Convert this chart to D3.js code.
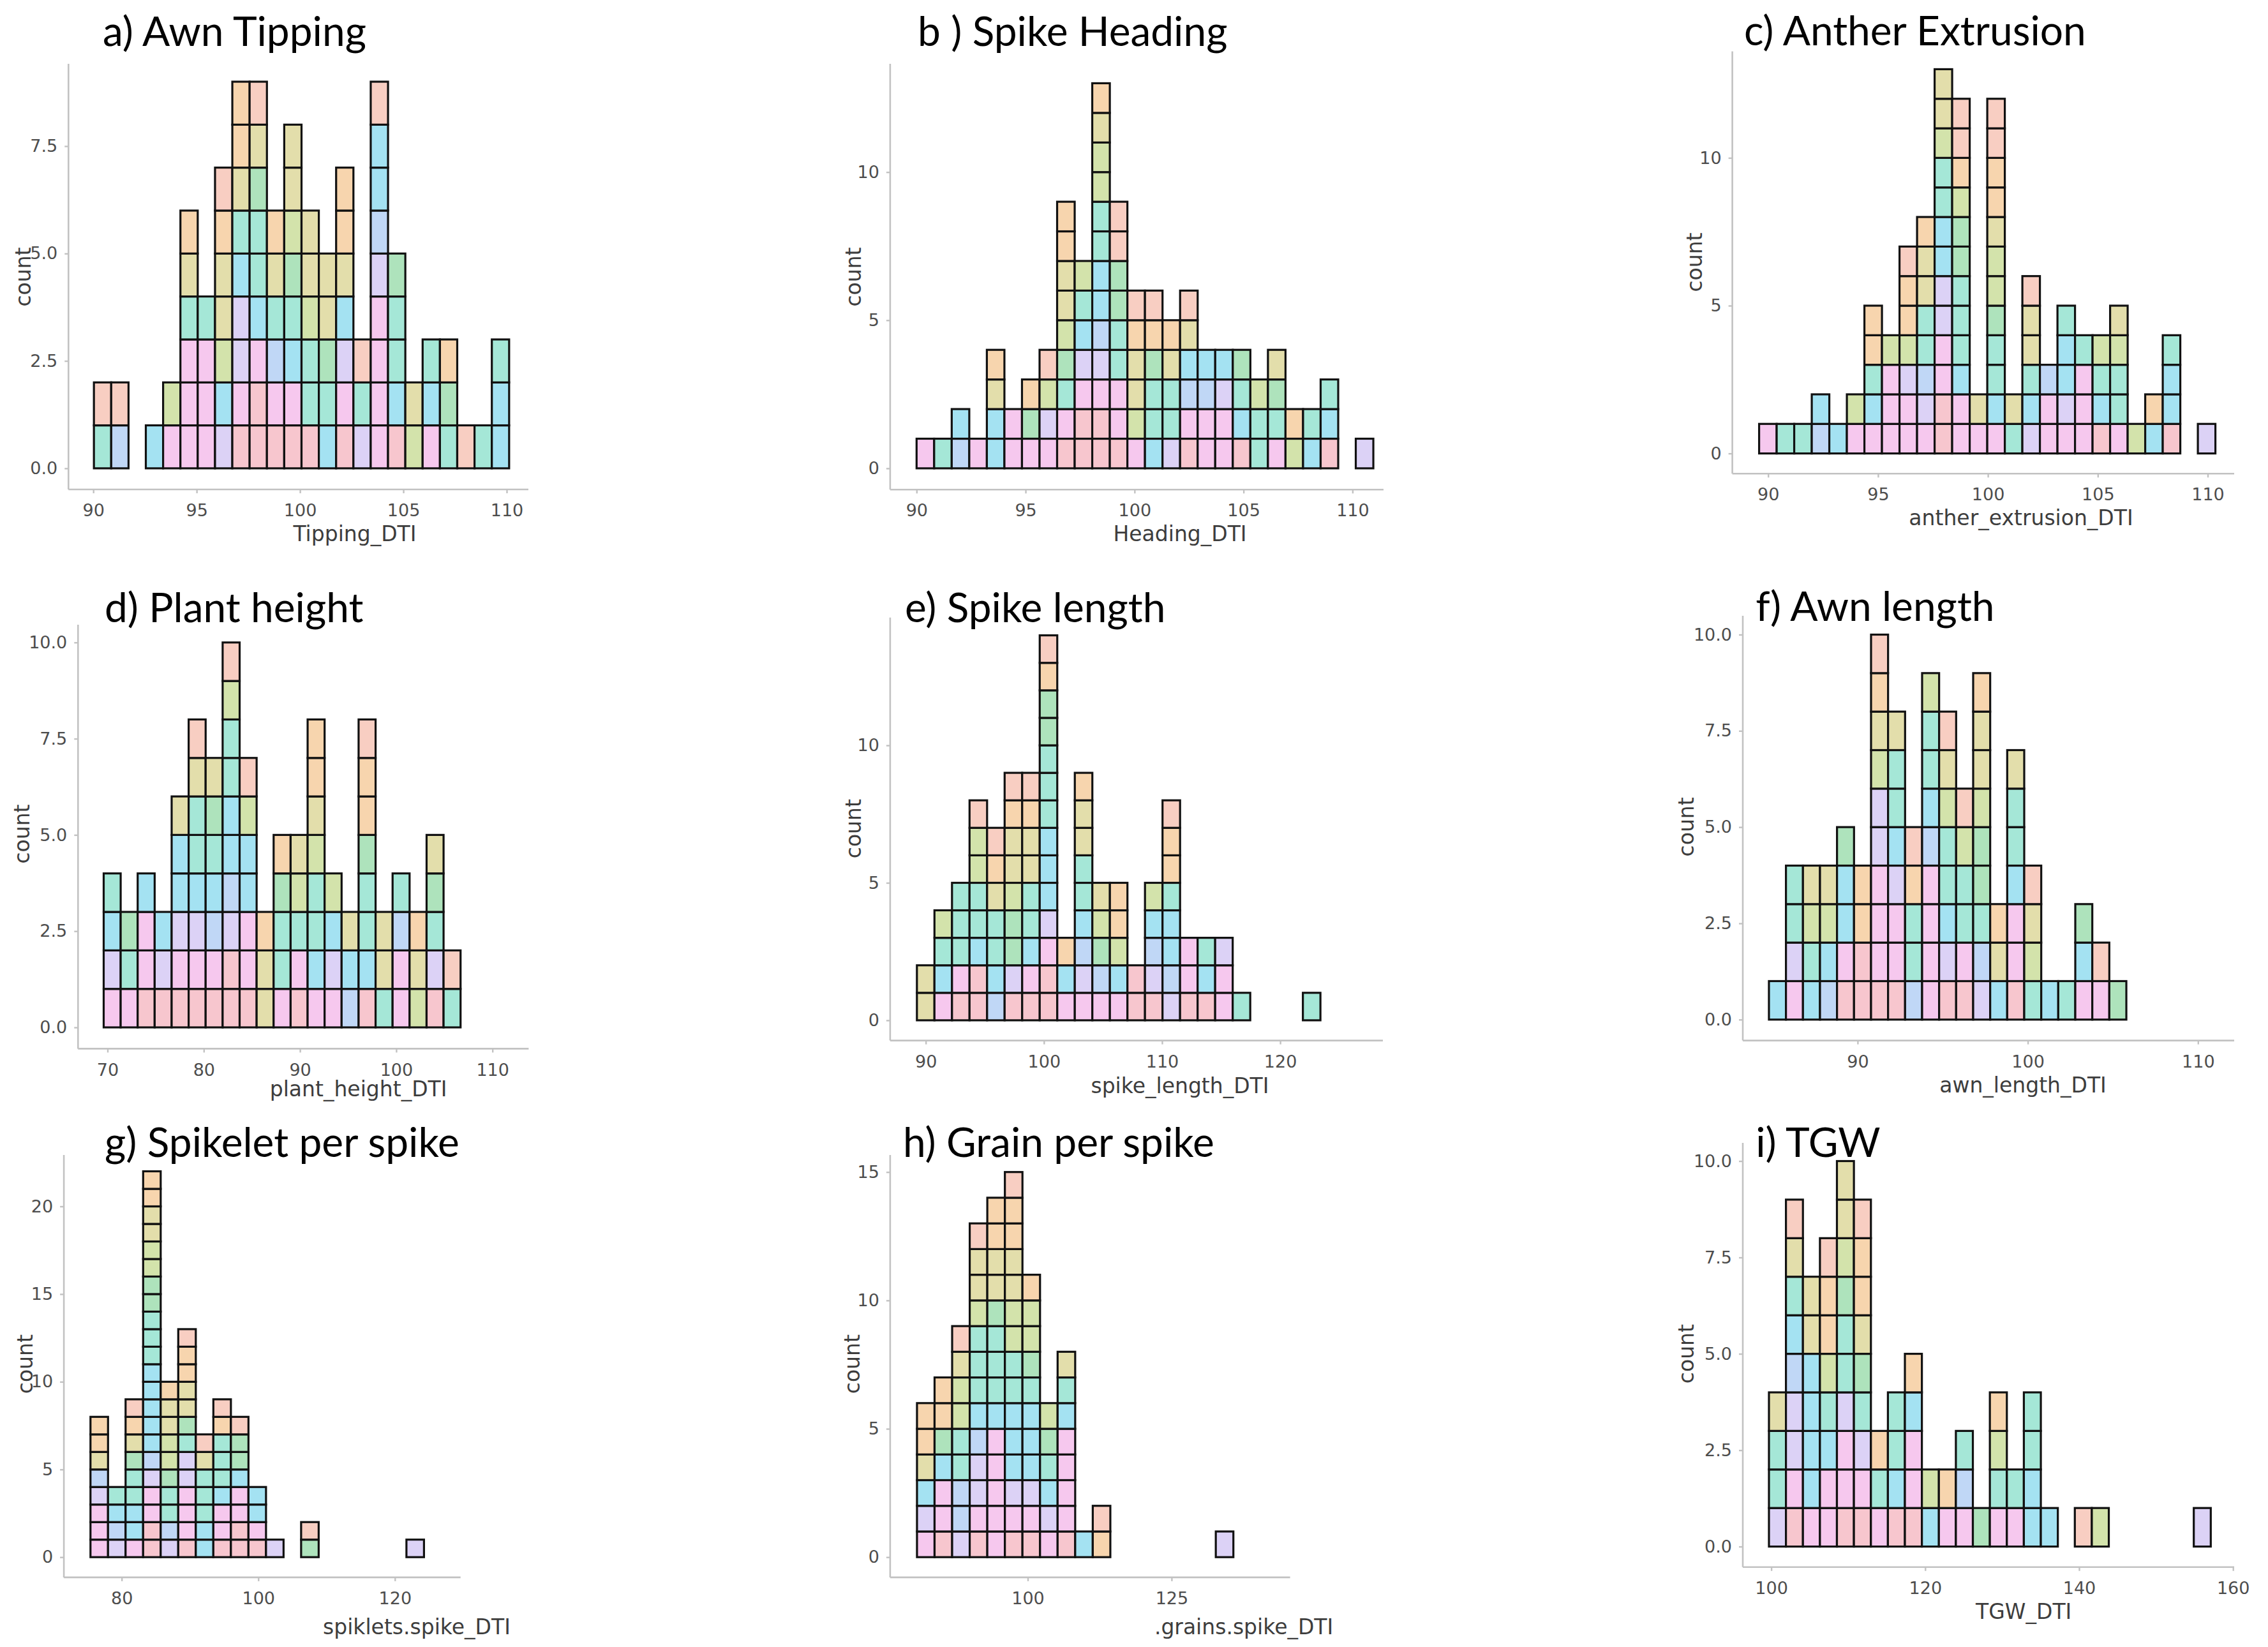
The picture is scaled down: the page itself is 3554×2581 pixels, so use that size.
<!DOCTYPE html>
<html><head><meta charset="utf-8">
<script src="https://cdn.jsdelivr.net/npm/d3@7"></script>
<style>html,body{margin:0;padding:0;background:#fff}svg{display:block}</style>
</head><body>
<svg id="chart" width="3554" height="2581"></svg>
<script>
// ---------------- DATA ----------------
// Panel titles and axis labels
const titles = ["a) Awn Tipping","b ) Spike Heading","c) Anther Extrusion","d) Plant height","e) Spike length","f) Awn length","g) Spikelet per spike","h) Grain per spike","i) TGW"];
const xLabels = ["Tipping_DTI","Heading_DTI","anther_extrusion_DTI","plant_height_DTI","spike_length_DTI","awn_length_DTI","spiklets.spike_DTI",".grains.spike_DTI","TGW_DTI"];

// Histogram bins: left edge of first bin and bin width (data units)
const binStarts = [90.03, 90.0, 89.59, 69.6, 89.25, 84.79, 75.43, 80.75, 99.70];
const binWidths = [0.837, 0.806, 0.7985, 1.766, 1.485, 1.0, 2.57, 3.055, 2.208];

// Each bin: one letter per stacked observation (bottom -> top); letter = genotype colour group
const binsA = ["tr","br","","c","ml","mmmtyo","mmmt","vclyyor","pmvvctyoo","ppmcttgyr","pmbtyo","pmctglyy","pttlyy","ctgyy","pmvcyoo","vtr","mmmmvbccr","pcttg","ly","mct","tgo","r","t","cct"];
const binsB = ["m","t","bc","m","ccyo","mm","mgo","mvlr","pmtglyyoo","ppmvctl","ppmvbccttllyo","pmmttggrr","mlyyor","cttgor","vttyo","pmbcyr","mmbc","mmvc","pctg","ttl","mtgy","lo","ct","pct","","v"];
const binsC = ["m","t","t","bc","c","ml","mctoo","mmml","mmvloor","mvbttyyo","ppmmvvccttlyy","mmctttgglorr","my","mcttgllyoorr","ty","vctyyr","mmb","mvcct","mmmt","pctl","mttly","l","co","pcct","","v"];
const binsD = ["mvct","mtg","pmmc","pvc","pmvccy","pmvcttyr","pmbctgy","ppvbccttlr","pmmcclr","yyo","mttgo","pmtly","mcttlyoo","mvcl","bcy","pcttgoor","tyy","mmbt","lyo","pvtgy","tr"];
const binsE = ["yy","mctl","pmttt","ppcttllr","bcttyor","pvgglyyor","pmcttyyor","ppmvccctttggor","mco","mvbcttyyo","mbgly","mcloo","pp","pvbcl","vbcctoor","pmm","pct","mmv","t","","","","t"];
const binsF = ["c","mvtt","ctly","bcly","pmccg","ppoo","pmmmvvlyor","pmmvctty","bttor","mmmmbcttl","pvcttlyr","pmttlr","vbtgglyyo","cyo","pmmctty","tlyr","c","t","mcg","mr","g"];
const binsG = ["mmmvbyoo","vbct","mccttgyor","ppmmvbccccctttggllyyoo","vbttgllyyo","pmmmvvtgyyoor","cctttyr","pmmctttor","ppmmcggr","pmcc","v","","gr","","","","","","v"];
const binsH = ["mvcyoo","pmmcgoo","vbbttllyr","pmvvbctttlyyr","mmmmmctttgyyoo","pmvcccttllyyoor","pmvccctgllo","mvctgl","pmmmmcty","c","or","","","","","","","v"];
const binsI = ["vtty","pmvvbctyr","mccccyy","mmctloor","pmmvttglyy","pmvtgyoor","mto","pctt","pmmco","cl","mo","mbt","g","mtlo","mt","cctt","c","","r","l","","","","","","v"];
const allBins = [binsA,binsB,binsC,binsD,binsE,binsF,binsG,binsH,binsI];

// Tick values and labels
const xTicks = [[90,95,100,105,110],[90,95,100,105,110],[90,95,100,105,110],[70,80,90,100,110],[90,100,110,120],[90,100,110],[80,100,120],[100,125],[100,120,140,160]];
const yTicks = [[0,2.5,5,7.5],[0,5,10],[0,5,10],[0,2.5,5,7.5,10],[0,5,10],[0,2.5,5,7.5,10],[0,5,10,15,20],[0,5,10,15],[0,2.5,5,7.5,10]];
const yTickLabels = [["0.0","2.5","5.0","7.5"],["0","5","10"],["0","5","10"],["0.0","2.5","5.0","7.5","10.0"],["0","5","10"],["0.0","2.5","5.0","7.5","10.0"],["0","5","10","15","20"],["0","5","10","15"],["0.0","2.5","5.0","7.5","10.0"]];

// ---------------- LAYOUT / STYLE ----------------
const palette = {p:"#F7C6CE", m:"#F6C8EE", v:"#DCD2F6", b:"#C0D7F6", c:"#A4E2F2", t:"#A5E7D7", g:"#AEE3BC", l:"#D3E3AB", y:"#E3DEAB", o:"#F7D5AE", r:"#F8CEC2"};
// pixel geometry of each panel (screenshot-like grid)
const layout = [
 {px:[146.2,794],   py:[733.9,229],   ax:107.3, atop:100,   ay:767,    aright:828,  tt:[161,72.3],    xl:[556,848,"middle"],    yl:[36,434]},
 {px:[1436.3,2119.4],py:[733.9,269.7],ax:1394.9,atop:100,   ay:767.3,  aright:2168, tt:[1438,72.3],   xl:[1849,848,"middle"],   yl:[1337,434]},
 {px:[2770.7,3459.5],py:[710.6,247.4],ax:2714.6,atop:80.6,  ay:742.3,  aright:3501, tt:[2732.9,71.2], xl:[3167,823,"middle"],   yl:[2655,411]},
 {px:[168.5,771.7], py:[1610,1006.8], ax:122.3, atop:979,   ay:1643.4, aright:828.4,tt:[164,974.5],   xl:[561.6,1718.4,"middle"],yl:[34.5,1307]},
 {px:[1450.7,2006.1],py:[1598.9,1168],ax:1394.9,atop:967.8, ay:1630.6, aright:2167, tt:[1417.9,974.5],xl:[1849,1712.9,"middle"], yl:[1337.4,1298.7]},
 {px:[2910.9,3444.3],py:[1597.8,994.5],ax:2731, atop:965,   ay:1630.6, aright:3501, tt:[2751.2,973.4],xl:[3170,1711.8,"middle"], yl:[2642.7,1295.9]},
 {px:[190.7,618.8], py:[2440.2,1890.5],ax:100.1,atop:1809.9,ay:2471.9, aright:721.7,tt:[164,1812.5],   xl:[506,2561,"start"],     yl:[39,2137.7]},
 {px:[1610.5,1835.9],py:[2440.2,1836.7],ax:1394.9,atop:1809.9,ay:2471.9,aright:2021.6,tt:[1415,1812.5],xl:[1808.9,2561,"start"], yl:[1335.7,2137.7]},
 {px:[2775.6,3499.2],py:[2423.6,1819.5],ax:2731, atop:1791,  ay:2455.8, aright:3501, tt:[2751.2,1812.5],xl:[3171.2,2537,"middle"],yl:[2642.7,2121.6]}
];

const svg = d3.select("#chart");
svg.append("rect").attr("width",3554).attr("height",2581).attr("fill","#fff");

const axisColor = "#c2c2c2";
const tickTextColor = "#4d4d4d";

allBins.forEach((bins, k) => {
  const L = layout[k];
  const xt = xTicks[k], yt = yTicks[k];
  const x = d3.scaleLinear().domain([xt[0], xt[xt.length-1]]).range(L.px);
  const y = d3.scaleLinear().domain([0, yt[yt.length-1]]).range(L.py);
  const g = svg.append("g").attr("class","panel");

  // axis lines
  g.append("line").attr("x1",L.ax).attr("x2",L.ax).attr("y1",L.atop).attr("y2",L.ay)
    .attr("stroke",axisColor).attr("stroke-width",2.6);
  g.append("line").attr("x1",L.ax).attr("x2",L.aright).attr("y1",L.ay).attr("y2",L.ay)
    .attr("stroke",axisColor).attr("stroke-width",2.6);

  // x axis ticks
  const xa = g.append("g").attr("transform",`translate(0,${L.ay})`)
    .call(d3.axisBottom(x).tickValues(xt).tickSize(6).tickPadding(17).tickFormat(d3.format("d")));
  xa.select(".domain").remove();
  xa.selectAll(".tick line").attr("stroke",axisColor).attr("stroke-width",2.4);
  xa.selectAll(".tick text").attr("font-size",27).attr("font-family","DejaVu Sans").attr("fill",tickTextColor);

  // y axis ticks
  const ya = g.append("g").attr("transform",`translate(${L.ax},0)`)
    .call(d3.axisLeft(y).tickValues(yt).tickSize(6).tickPadding(11).tickFormat((d,i)=>yTickLabels[k][i]));
  ya.select(".domain").remove();
  ya.selectAll(".tick line").attr("stroke",axisColor).attr("stroke-width",2.4);
  ya.selectAll(".tick text").attr("font-size",27).attr("font-family","DejaVu Sans").attr("fill",tickTextColor);

  // stacked cells
  const cells = [];
  bins.forEach((s, i) => {
    const x0 = binStarts[k] + i*binWidths[k];
    const x1 = x0 + binWidths[k];
    s.split("").forEach((code, j) => cells.push({x0, x1, j, code}));
  });
  g.append("g").selectAll("rect").data(cells).join("rect")
    .attr("x", d => x(d.x0))
    .attr("width", d => x(d.x1) - x(d.x0))
    .attr("y", d => y(d.j + 1))
    .attr("height", d => y(d.j) - y(d.j + 1))
    .attr("fill", d => palette[d.code])
    .attr("stroke", "#111")
    .attr("stroke-width", 3.2);

  // axis titles
  g.append("text").attr("x",L.xl[0]).attr("y",L.xl[1]).attr("text-anchor",L.xl[2])
    .attr("font-family","DejaVu Sans").attr("font-size",33).attr("fill","#3d3d3d").text(xLabels[k]);
  g.append("text").attr("transform",`translate(${L.yl[0]},${L.yl[1]}) rotate(-90)`)
    .attr("text-anchor","middle").attr("dominant-baseline","central")
    .attr("font-family","DejaVu Sans").attr("font-size",33).attr("fill","#3d3d3d").text("count");

  // panel title
  g.append("text").attr("x",L.tt[0]).attr("y",L.tt[1])
    .attr("font-family","Lato, 'Open Sans', sans-serif").attr("font-size",64).attr("fill","#000").text(titles[k]);
});
</script>
</body></html>
